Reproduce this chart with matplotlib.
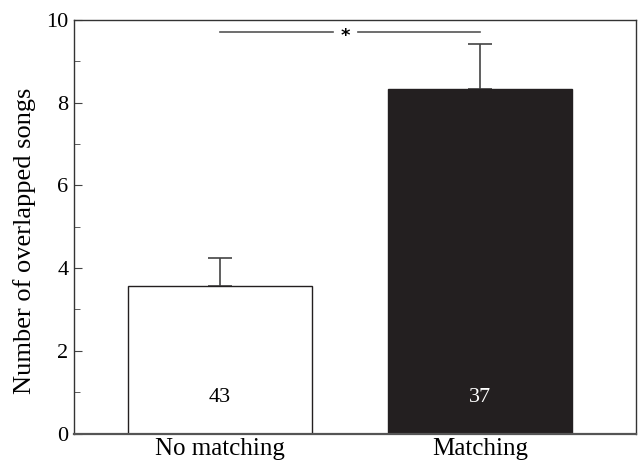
import matplotlib.pyplot as plt
from matplotlib.ticker import MultipleLocator

# datos
categorias = ['No matching', 'Matching']
medias = [3.57, 8.34]
errores = [0.67, 1.07]
n_muestras = ['43', '37']
colores = ['white', '#231f20']
color_texto = ['black', 'white']

# linea de significacion (tramos a ambos lados del asterisco)
sig_y = 9.71
sig_tramos = [(0.0, 0.435), (0.531, 1.0)]
sig_x_ast = 0.482

plt.rcParams['font.family'] = ['Liberation Serif', 'DejaVu Serif']

fig = plt.figure(figsize=(6.41, 4.63), dpi=100)
ax = fig.add_axes([0.1154, 0.0637, 0.8768, 0.8931])

x = range(len(categorias))
ax.bar(x, medias, width=0.708, color=colores, edgecolor='#231f20',
       linewidth=1.0, zorder=2)
ax.errorbar(x, medias, yerr=[[0, 0], errores], fmt='none', ecolor='#444444',
            elinewidth=1.2, capsize=8.3, capthick=1.2, zorder=1)

# numero de muestras dentro de cada barra
for i, txt in enumerate(n_muestras):
    ax.text(i, 0.86, txt, ha='center', va='center', fontsize=16,
            color=color_texto[i])

# linea de significacion con asterisco
for x0, x1 in sig_tramos:
    ax.plot([x0, x1], [sig_y, sig_y], color='#555555', lw=1.2, zorder=1)
ax.text(sig_x_ast, sig_y - 0.1, '*', ha='center', va='center', fontsize=13,
        fontweight='bold', family='DejaVu Sans')

ax.set_xlim(-0.5615, 1.6)
ax.set_ylim(0, 10)
ax.set_xticks(list(x))
ax.set_xticklabels(categorias, fontsize=18)
ax.tick_params(axis='x', length=0, pad=3)
ax.yaxis.set_major_locator(MultipleLocator(2))
ax.yaxis.set_minor_locator(MultipleLocator(1))
ax.tick_params(axis='y', which='major', direction='in', length=6,
               labelsize=16, pad=4, color='#444444')
ax.tick_params(axis='y', which='minor', direction='in', length=4,
               color='#444444')
ax.set_ylabel('Number of overlapped songs', fontsize=19)
ax.yaxis.set_label_coords(-0.068, 0.466)

for lado in ['left', 'right', 'top']:
    ax.spines[lado].set_color('#333333')
    ax.spines[lado].set_linewidth(1.0)
ax.spines['bottom'].set_color('#555555')
ax.spines['bottom'].set_linewidth(1.6)

plt.savefig('out.png', dpi=100)
